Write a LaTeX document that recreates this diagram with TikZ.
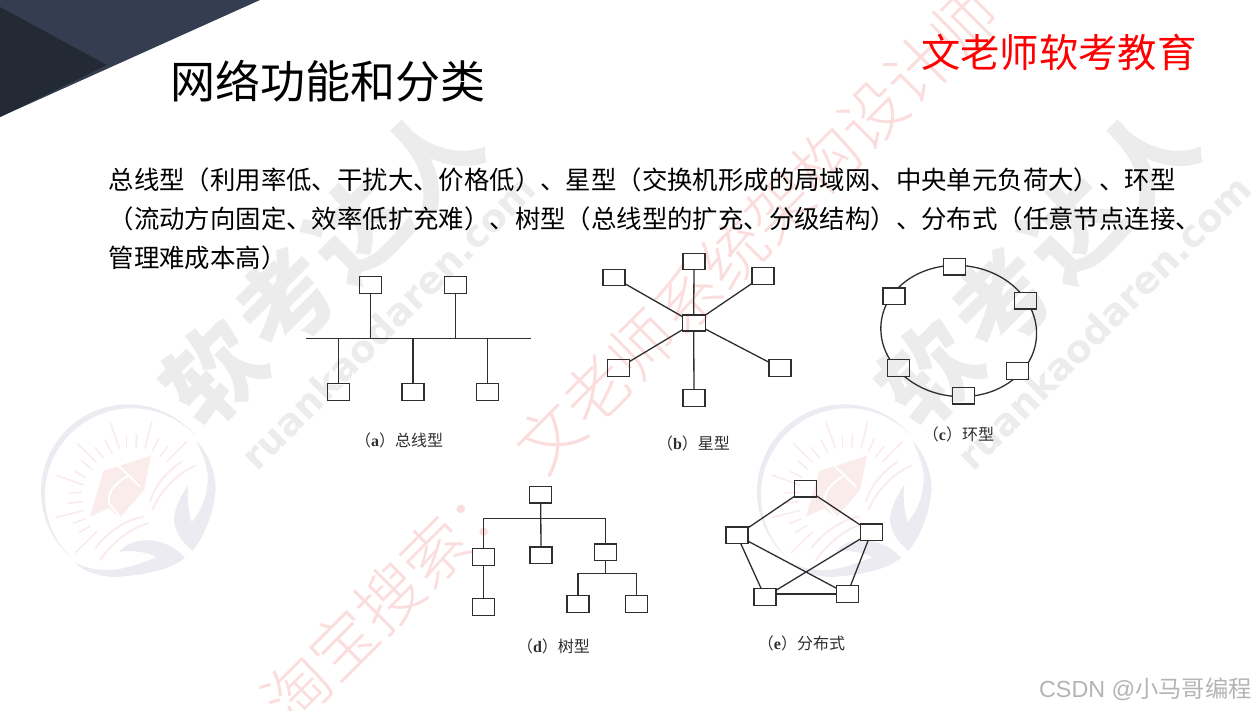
\documentclass[tikz,border=0pt]{standalone}
\usepackage{fontspec}
\setmainfont{Noto Sans CJK SC}
\newfontfamily\capserif{Liberation Serif}
\newfontfamily\wmlat{DejaVu Sans}
\newfontfamily\csdnlat{Liberation Sans}
\newfontfamily\thinfont{Noto Sans CJK SC Light}
\usetikzlibrary{shapes.geometric}
\definecolor{wmgray}{HTML}{ECECEC}
\definecolor{wmlav}{HTML}{ECEBF1}
\definecolor{wmpink}{HTML}{FCDDDD}
\definecolor{raypink}{HTML}{FBECEC}
\definecolor{inkline}{HTML}{2E2E2E}
\definecolor{cornerlight}{HTML}{343E50}
\definecolor{cornerdark}{HTML}{232A35}
\definecolor{csdngray}{HTML}{B4B4B4}
\newcommand{\capt}[2]{\rmfamily （{\capserif\bfseries #1}）#2}
\tikzset{
  x=1pt,y=-1pt,
  box/.style={draw=inkline,line width=1.3pt,minimum width=22pt,minimum height=16.5pt,inner sep=0pt,outer sep=0pt},
  link/.style={draw=inkline,line width=1.3pt},
  caption/.style={font=\fontsize{16}{16}\selectfont,text=inkline,inner sep=0pt},
  body/.style={font=\fontsize{25.4}{25.4}\selectfont,text=black,anchor=west,inner sep=0pt},
  ray/.style={draw=raypink,line cap=round},
  pics/logo/.style={code={
    \begin{scope}[scale=1/3]
      \fill[wmlav] plot[domain=40:230,samples=50] ({265+262*cos(\x)},{290-262*sin(\x)})
        -- plot[domain=230:40,samples=50] ({265+(262-16*sin((\x-40)*0.947))*cos(\x)},{290-(262-16*sin((\x-40)*0.947))*sin(\x)}) -- cycle;
      \fill[wmlav] (470,140) .. controls (505,170) and (535,250) .. (525,300)
        .. controls (518,360) and (490,430) .. (458,467)
        .. controls (430,445) and (405,415) .. (402,375)
        .. controls (402,340) and (425,300) .. (445,268)
        .. controls (440,305) and (445,350) .. (455,382)
        .. controls (490,340) and (505,290) .. (503,240)
        .. controls (500,205) and (485,170) .. (470,140) -- cycle;
      \fill[wmlav] (105,503) .. controls (130,530) and (190,550) .. (240,545)
        .. controls (320,538) and (390,525) .. (435,488)
        .. controls (400,450) and (350,430) .. (300,437)
        .. controls (270,442) and (250,455) .. (238,470)
        .. controls (275,465) and (320,470) .. (350,487)
        .. controls (310,500) and (260,525) .. (200,525)
        .. controls (160,525) and (130,515) .. (105,503) -- cycle;
      \fill[raypink] (190,228) -- (333,182) -- (312,285) -- (240,368) -- (205,340) -- (150,365) -- cycle;
      \draw[white,line width=2pt] (235,212) -- (300,275);
      \draw[white,line width=2pt] (270,240) .. controls (230,260) and (200,290) .. (207,325) -- (240,365);
      \foreach \a/\b/\c/\d in {210/80/238/160,335/80/315/160,260/120/260/158,290/118/288/158,355/132/338/168,195/135/215/172,165/158/190/188,112/145/170/203,440/140/380/200,383/155/360/185,125/198/155/222,105/230/138/247,48/240/130/270,88/294/125/292,85/325/127/320,48/367/130/347,100/385/135/372,118/413/152/392,107/472/170/410}
        \draw[ray,line width=1.6pt] (\a,\b) -- (\c,\d);
      \draw[ray,line width=2pt] (330,320) .. controls (345,270) and (380,230) .. (425,200);
      \draw[ray,line width=2pt] (337,345) .. controls (360,290) and (405,240) .. (465,212);
      \draw[ray,line width=2pt] (167,458) .. controls (205,410) and (255,375) .. (310,365);
      \draw[ray,line width=2pt] (180,495) .. controls (220,440) and (270,400) .. (325,385);
    \end{scope}
  }}
}
\begin{document}
\begin{tikzpicture}
\useasboundingbox (0,0) rectangle (1256,710);
\fill[white] (0,0) rectangle (1256,710);
% corner
\fill[cornerlight] (0,0) -- (260,0) -- (0,117) -- cycle;
\fill[cornerdark] (0,7) -- (107,65) -- (0,117) -- cycle;
% watermarks
\begin{scope}
\clip (0,0) rectangle (1256,710);
\pic at (40,395) {logo};
\pic at (756,395) {logo};
\foreach \dx/\nm in {0/a,716/b}{
  \node[rotate=45,text=wmgray,inner sep=0pt,font=\fontsize{96}{96}\selectfont\bfseries] (wmsoft\nm) at (322+\dx,265) {软\hspace{6pt}考\hspace{6pt}达\hspace{6pt}人};
  \node[rotate=45,text=wmgray,inner sep=0pt,font=\fontsize{37.5}{37.5}\selectfont\wmlat\bfseries] (wmurl\nm) at (388+\dx,322) {ruankaodaren.com};
}
\node[rotate=45,text=wmpink,inner sep=0pt,font=\fontsize{65}{65}\selectfont\thinfont] (wmred) at (630.6,356.4) {淘宝搜索：\hspace{32.5pt}文老师系统架构设计师};
\end{scope}
% title etc.
\node[font=\fontsize{45}{45}\selectfont,text=black,inner sep=0pt,anchor=west] (title) at (170,81) {网络功能和分类};
\node[font=\fontsize{39.3}{39.3}\selectfont,text=red,inner sep=0pt,anchor=west] (brand) at (921,52) {文老师软考教育};
\node[body] (l1) at (108.5,180) {总线型（利用率低、干扰大、价格低）、星型（交换机形成的局域网、中央单元负荷大）、环型};
\node[body] (l2) at (108.5,219) {（流动方向固定、效率低扩充难）、树型（总线型的扩充、分级结构）、分布式（任意节点连接、};
\node[body] (l3) at (108.5,258) {管理难成本高）};
\node[font=\fontsize{23.3}{23.3}\selectfont,text=csdngray,inner sep=0pt,anchor=east] (csdn) at (1252,689) {{\csdnlat CSDN @}小马哥编程};
% (a) bus
\coordinate (busl) at (306,338.7);
\coordinate (busr) at (531,338.7);
\draw[link] (busl) -- (busr);
\foreach \n/\x/\y in {au1/370.7/285,au2/455.7/285,ad1/338.3/392,ad2/413/392,ad3/487.7/392}
  \node[box] (\n) at (\x,\y) {};
\foreach \n in {au1,au2,ad1,ad2,ad3}
  \draw[link] (\n) -- (\n |- busl);
\node[caption] (capa) at (399,440) {\capt{a}{总线型}};
% (b) star
\node[box,minimum width=23pt,minimum height=16pt] (bc) at (693.7,323) {};
\foreach \n/\x/\y in {bt/694/261.5,btl/614/277.5,btr/763/276,bl/618.7/368,br/780/368,bb/694/398}{
  \node[box] (\n) at (\x,\y) {};
  \draw[link] (bc) -- (\n);
}
\node[caption] (capb) at (693.5,443) {\capt{b}{星型}};
% (c) ring
\foreach \n/\x/\y in {c1/954.3/266.7,c2/1025.3/300.7,c3/1017.7/371,c4/963.7/395.7,c5/898.7/368,c6/894/296.3}
  \node[box] (\n) at (\x,\y) {};
\coordinate (cc) at (958.7,331);
\begin{scope}[even odd rule]
\clip (0,0) rectangle (1256,710)
  (c1.south west) rectangle (c1.north east) (c2.south west) rectangle (c2.north east)
  (c3.south west) rectangle (c3.north east) (c4.south west) rectangle (c4.north east)
  (c5.south west) rectangle (c5.north east) (c6.south west) rectangle (c6.north east);
\draw[link,rotate around={-6:(cc)}] (cc) ellipse [x radius=78,y radius=65.5];
\end{scope}
\node[caption] (capc) at (958.5,434) {\capt{c}{环型}};
% (d) tree
\foreach \n/\x/\y in {dr/540.7/494.7,d1/483.5/557,d2/541/555.3,d3/605.3/552.3,d11/483.5/607,d31/578/604,d32/636.3/604}
  \node[box] (\n) at (\x,\y) {};
\coordinate (dbar) at (540.7,518.7);
\coordinate (dbar2) at (605.3,573.3);
\draw[link] (dr) -- (d2);
\draw[link] (d1) |- (dbar) -| (d3);
\draw[link] (d1) -- (d11);
\draw[link] (d3) -- (dbar2);
\draw[link] (d31) |- (dbar2) -| (d32);
\node[caption] (capd) at (553.5,646.7) {\capt{d}{树型}};
% (e) mesh
\foreach \n/\x/\y in {et/805.7/488.7,el/737/535.3,er/871.3/532.3,ebl/765/597,ebr/847.3/594}
  \node[box] (\n) at (\x,\y) {};
\foreach \p/\q in {et/el,et/er,el/ebl,el/ebr,er/ebl,er/ebr}
  \draw[link] (\p) -- (\q);
\draw[link] (ebl.east |- ebr) -- (ebr);
\node[caption] (cape) at (801.5,643) {\capt{e}{分布式}};
\end{tikzpicture}
\end{document}
